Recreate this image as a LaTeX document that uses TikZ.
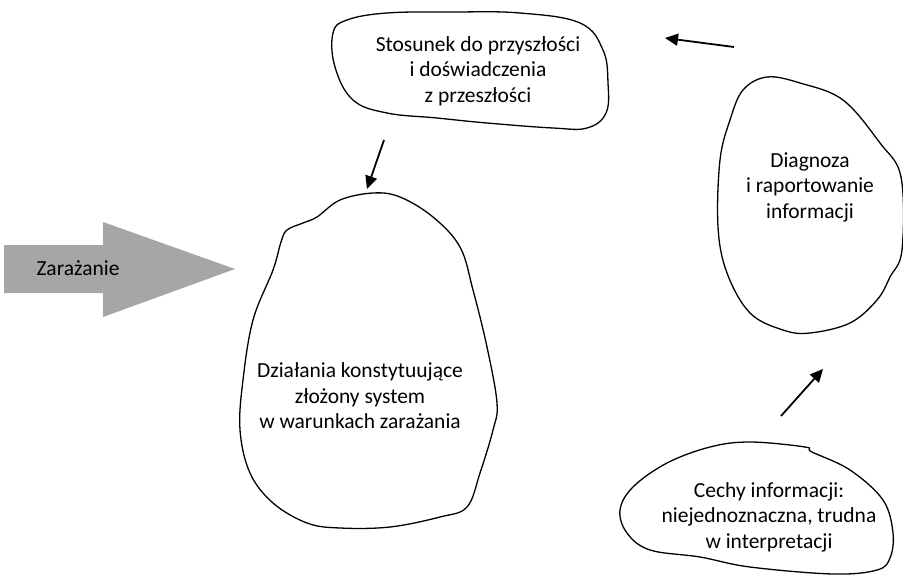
\documentclass[tikz,border=0pt]{standalone}
\usepackage{fontspec}
\setmainfont{Carlito}
\usetikzlibrary{arrows.meta}

\tikzset{
  blob/.style={draw=black, line width=1.3pt, fill=white},
  label/.style={align=center, font=\fontsize{21.5}{25.5}\selectfont, text=black},
  flow/.style={line width=1.8pt, -{Triangle[length=13pt,width=12pt]}},
  bigarrow/.style={fill=black!35, draw=none}
}

\begin{document}
\begin{tikzpicture}[x=1pt, y=-1pt]
  \useasboundingbox (0,0) rectangle (903,576);

  % outline of the "Stosunek" cloud
  \draw[blob] plot[smooth cycle, tension=0.65] coordinates {
    (333,33) (347,20) (387,13) (453,12) (520,13) (580,23) (603,50)
    (608,83) (606,113) (587,128) (553,128) (487,123) (437,118)
    (387,113) (353,100) (335,67)};

  % outline of the large "Działania" cloud
  \draw[blob] plot[smooth cycle, tension=0.6] coordinates {
    (373,193) (340,200) (317,217) (303,223) (287,230) (281,242)
    (273,270) (253,320) (243,380) (240,430) (250,473) (273,503)
    (307,523) (340,528) (390,527) (440,517) (467,507) (480,473)
    (493,430) (497,403) (487,347) (473,290) (460,247) (433,217)
    (400,197)};

  % outline of the "Diagnoza" cloud
  \draw[blob] plot[smooth cycle, tension=0.6] coordinates {
    (767,77) (743,90) (730,120) (720,160) (718,227) (727,273)
    (750,313) (783,330) (810,333) (850,323) (877,300) (890,277)
    (902,250) (901,177) (880,143) (843,100) (800,83)};

  % outline of the "Cechy" cloud
  \draw[blob] plot[smooth cycle, tension=0.6] coordinates {
    (750,442) (805,447) (812,452) (850,470) (883,500) (893,533)
    (890,558) (877,570) (833,574) (750,567) (700,557) (650,550)
    (627,533) (620,510) (633,487) (667,463) (710,447)};

  % broad grey arrow
  \draw[bigarrow] (4,245) -- (103,245) -- (103,222) -- (235,269)
    -- (103,317) -- (103,293) -- (4,293) -- cycle;

  \node[label] (zar) at (78,268) {Zarażanie};
  \node[label] (stos) at (478,71) {Stosunek do przyszłości\\i doświadczenia\\z przeszłości};
  \node[label] (dzial) at (360,396) {Działania konstytuujące\\złożony system\\w warunkach zarażania};
  \node[label] (diag) at (810,187) {Diagnoza\\i raportowanie\\informacji};
  \node[label] (cech) at (769,517) {Cechy informacji:\\niejednoznaczna, trudna\\w interpretacji};

  % free-standing flow arrows
  \coordinate (a1s) at (734,47);
  \coordinate (a1e) at (665,38);
  \coordinate (a2s) at (384,140);
  \coordinate (a2e) at (367,189);
  \coordinate (a3s) at (781,416);
  \coordinate (a3e) at (823,369);
  \draw[flow] (a1s) -- (a1e);
  \draw[flow] (a2s) -- (a2e);
  \draw[flow] (a3s) -- (a3e);
\end{tikzpicture}
\end{document}
